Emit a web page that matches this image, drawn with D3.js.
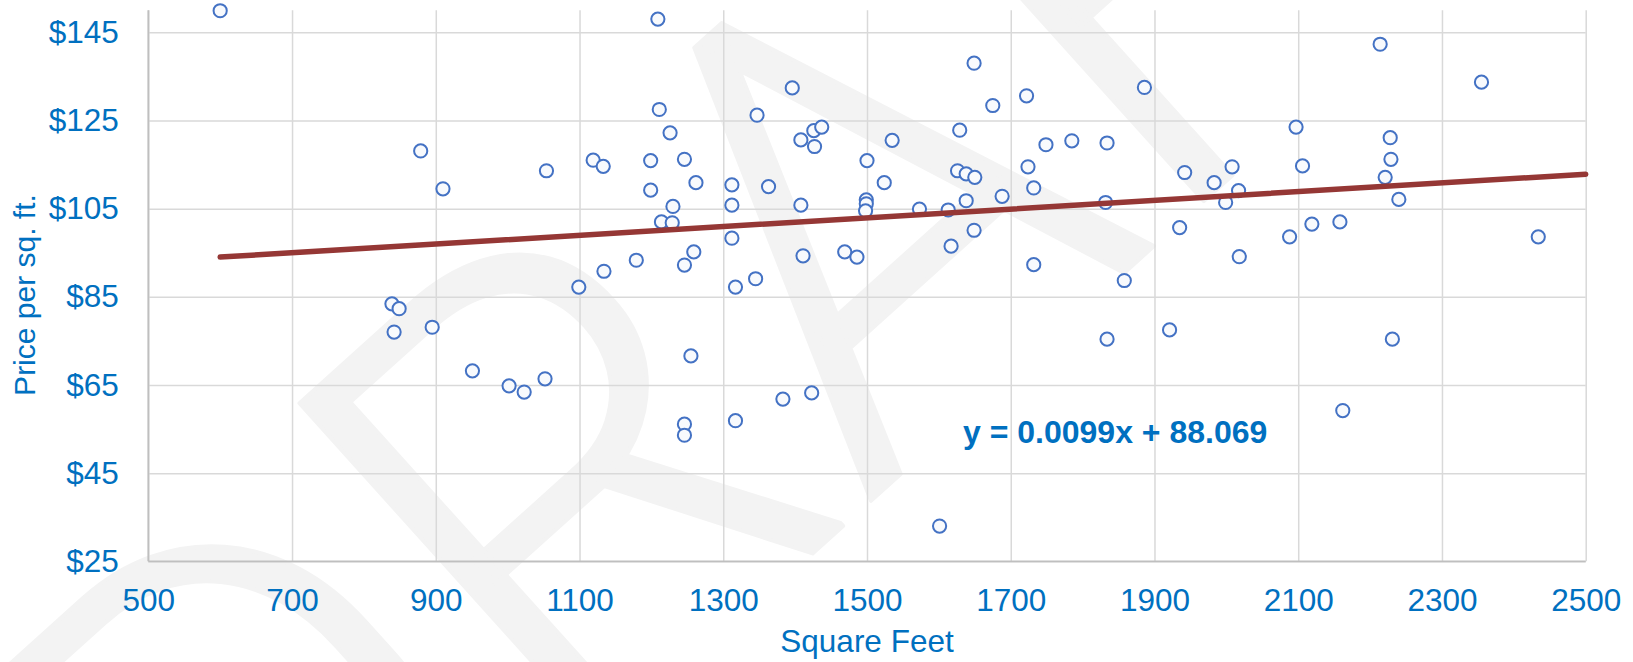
<!DOCTYPE html>
<html>
<head>
<meta charset="utf-8">
<script src="https://cdn.jsdelivr.net/npm/d3@7"></script>
<style>
  body { margin: 0; background: #ffffff; }
</style>
</head>
<body>
<script>
// house sizes (sq. ft.) and price per sq. ft.
let sqft = [
  600, 879, 910, 1054, 839, 849, 842, 895, 951, 1002, 1023, 1052,
  1209, 1119, 1133, 1199, 1211, 1226, 1246, 1199, 1262, 1230, 1214, 1229,
  1312, 1312, 1363, 1347, 1396, 1408, 1426, 1437, 1427, 1408, 1312,
  1500, 1535, 1524, 1499, 1499, 1498, 1573, 1613, 1638, 1649, 1675, 1722,
  1629, 1626, 1638, 1650, 1688, 1724, 1732, 1749, 1785, 1649, 1617, 1732,
  1469, 1486, 1411, 1345, 1317, 1259, 1246, 1179, 1134, 1099,
  1255, 1246, 1246, 1317, 1383, 1423, 1601,
  1834, 1886, 1832, 1942, 1983, 2008, 2017, 1999, 1935, 2018, 1858, 1921,
  2097, 2106, 2088, 2119, 2158, 2214, 2228, 2229, 2221, 2240, 2355, 2434,
  1834, 2231, 2162
];
let price = [
  149.9, 118.1, 109.5, 113.6, 83.4, 82.3, 77.0, 78.1, 68.2, 64.8, 63.4, 66.4,
  148.0, 116.0, 114.6, 115.9, 127.5, 122.2, 116.2, 109.2, 110.9, 105.5, 102.0, 101.8,
  110.4, 105.8, 110.0, 126.2, 132.4, 120.6, 122.7, 123.5, 119.1, 105.8, 98.3,
  115.9, 120.5, 110.9, 107.0, 106.1, 104.5, 104.9, 104.7, 106.8, 138.0, 128.4, 130.6,
  122.8, 113.6, 112.9, 112.1, 107.8, 114.5, 109.7, 119.5, 120.4, 100.1, 96.5, 92.3,
  95.2, 94.0, 94.3, 89.1, 87.2, 95.2, 92.2, 93.3, 90.8, 87.2,
  71.6, 56.1, 53.6, 56.9, 61.8, 63.2, 33.0,
  119.9, 132.5, 106.4, 113.2, 110.9, 114.5, 109.1, 106.4, 100.7, 94.1, 88.7, 77.5,
  123.5, 114.7, 98.6, 101.5, 102.0, 142.3, 121.1, 116.2, 112.1, 107.1, 133.7, 98.6,
  75.4, 75.4, 59.2
];

let xTicks = [500, 700, 900, 1100, 1300, 1500, 1700, 1900, 2100, 2300, 2500];
let yTicks = [25, 45, 65, 85, 105, 125, 145];

let slope = 0.0099;
let intercept = 88.069;
let trendFrom = 600;
let trendTo = 2500;

let xTitle = "Square Feet";
let yTitle = "Price per sq. ft.";
let equation = "y = 0.0099x + 88.069";
let watermark = "DRAFT";

let w = 1633;
let h = 662;
let font = "'Liberation Sans', Arial, sans-serif";
let blue = "#0070c0";

let svg = d3.select("body").append("svg").attr("width", w).attr("height", h);

let xScale = d3.scaleLinear().domain([500, 2500]).range([148.3, 1585.7]);
let yScale = d3.scaleLinear().domain([25, 150]).range([561.3, 10.3]);

let plotTop = yScale(150);
let plotBottom = yScale(25);
let plotLeft = xScale(500);
let plotRight = xScale(2500);

// faint watermark behind the plot
svg
  .append("text")
  .attr("transform", "translate(250,1060) rotate(-42)")
  .style("font-family", "Roboto, 'Liberation Sans', sans-serif")
  .style("font-weight", 300)
  .style("font-size", "640px")
  .attr("fill", "#f3f3f3")
  .attr("stroke", "#f3f3f3")
  .attr("stroke-width", 4)
  .attr("stroke-linejoin", "round")
  .text(watermark);

// vertical gridlines + x tick labels
let gx = svg
  .append("g")
  .attr("transform", "translate(0," + plotBottom + ")")
  .call(
    d3
      .axisBottom(xScale)
      .tickValues(xTicks)
      .tickSize(-(plotBottom - plotTop))
      .tickPadding(27.3)
      .tickFormat(d3.format("d"))
  );
gx.select(".domain").remove();
gx.selectAll(".tick line").attr("stroke", "#d9d9d9").attr("stroke-width", 1.5);
gx.selectAll(".tick text")
  .style("font-family", font)
  .style("font-size", "31.5px")
  .attr("fill", blue);

// horizontal gridlines + y tick labels
let gy = svg
  .append("g")
  .attr("transform", "translate(" + plotLeft + ",0)")
  .call(
    d3
      .axisLeft(yScale)
      .tickValues(yTicks)
      .tickSize(-(plotRight - plotLeft))
      .tickPadding(29.5)
      .tickFormat((d) => "$" + d)
  );
gy.select(".domain").remove();
gy.selectAll(".tick line").attr("stroke", "#d9d9d9").attr("stroke-width", 1.5);
gy.selectAll(".tick text")
  .style("font-family", font)
  .style("font-size", "31.5px")
  .attr("fill", blue);

// axis lines
svg
  .append("line")
  .attr("x1", plotLeft).attr("x2", plotLeft)
  .attr("y1", plotTop).attr("y2", plotBottom)
  .attr("stroke", "#bfbfbf").attr("stroke-width", 1.8);
svg
  .append("line")
  .attr("x1", plotLeft).attr("x2", plotRight)
  .attr("y1", plotBottom).attr("y2", plotBottom)
  .attr("stroke", "#bfbfbf").attr("stroke-width", 1.8);

// axis titles
svg
  .append("text")
  .attr("x", (plotLeft + plotRight) / 2)
  .attr("y", 652)
  .attr("text-anchor", "middle")
  .style("font-family", font)
  .style("font-size", "31.5px")
  .attr("fill", blue)
  .text(xTitle);

svg
  .append("text")
  .attr("transform", "translate(35,295) rotate(-90)")
  .attr("text-anchor", "middle")
  .style("font-family", font)
  .style("font-size", "30px")
  .attr("fill", blue)
  .text(yTitle);

// points
let points = sqft.map((d, i) => ({ x: d, y: price[i] }));
svg
  .selectAll("circle")
  .data(points)
  .enter()
  .append("circle")
  .attr("r", 6.6)
  .attr("cx", (d) => xScale(d.x))
  .attr("cy", (d) => yScale(d.y))
  .attr("fill", "#f8fafd")
  .attr("stroke", "#4472c4")
  .attr("stroke-width", 2);

// linear trendline
svg
  .append("line")
  .attr("x1", xScale(trendFrom))
  .attr("y1", yScale(slope * trendFrom + intercept))
  .attr("x2", xScale(trendTo))
  .attr("y2", yScale(slope * trendTo + intercept))
  .attr("stroke", "#953735")
  .attr("stroke-width", 5.5)
  .attr("stroke-linecap", "round");

svg
  .append("text")
  .attr("x", 963)
  .attr("y", 443)
  .style("font-family", font)
  .style("font-size", "32px")
  .style("font-weight", "bold")
  .attr("fill", blue)
  .text(equation);
</script>
</body>
</html>
